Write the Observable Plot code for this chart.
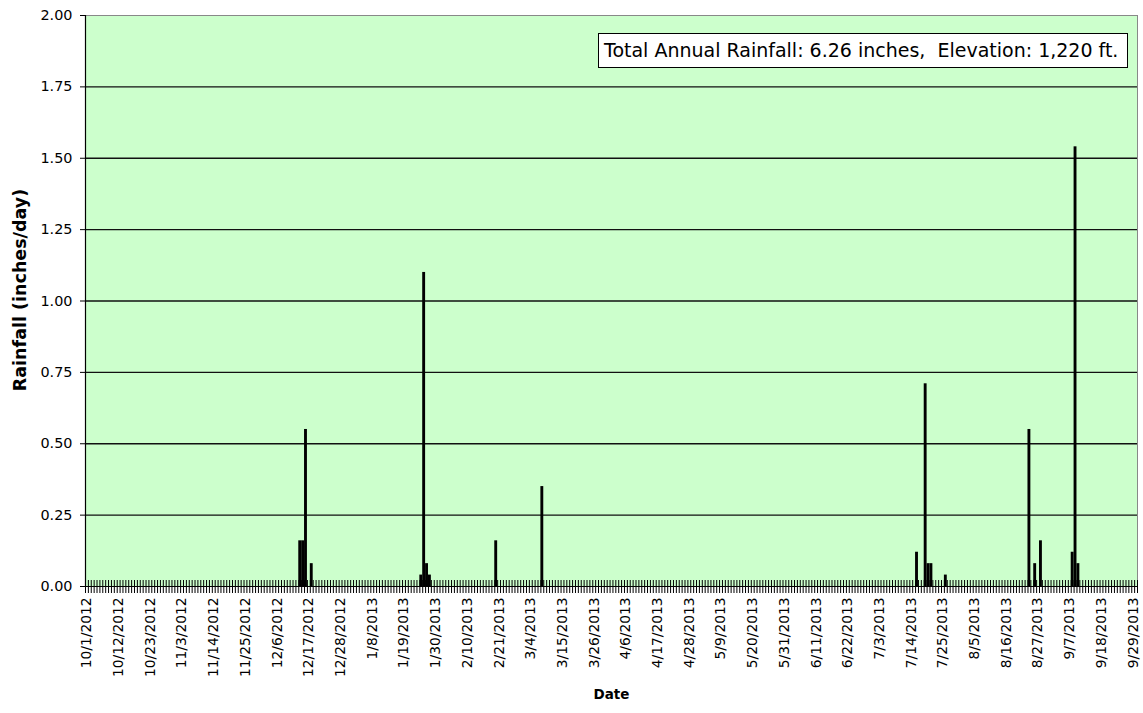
<!DOCTYPE html>
<html>
<head>
<meta charset="utf-8">
<script src="https://cdn.jsdelivr.net/npm/d3@7"></script>
<script src="https://cdn.jsdelivr.net/npm/@observablehq/plot@0.6"></script>
<style>
  html, body { margin: 0; padding: 0; background: #fff; }
  #wrap { position: relative; width: 1143px; height: 713px; }
  #note {
    position: absolute; left: 598px; top: 33px; width: 523px; height: 33px;
    background: #fff; border: 1px solid #000; box-sizing: content-box;
    font-family: "DejaVu Sans", sans-serif; font-size: 19px; line-height: 33px;
    padding-left: 5px; white-space: pre; color: #000;
  }
</style>
</head>
<body>
<div id="wrap"></div>
<script>
// ---- data ----
const startDate = "2012-10-01";
const endDate = "2013-10-01"; // exclusive
const rainDates = [
  "2012-12-14", "2012-12-15", "2012-12-16", "2012-12-18",
  "2013-01-25", "2013-01-26", "2013-01-27", "2013-01-28",
  "2013-02-20", "2013-03-08",
  "2013-07-16", "2013-07-19", "2013-07-20", "2013-07-21", "2013-07-26",
  "2013-08-24", "2013-08-26", "2013-08-28",
  "2013-09-08", "2013-09-09", "2013-09-10"
];
const rainInches = [
  0.16, 0.16, 0.55, 0.08,
  0.04, 1.10, 0.08, 0.04,
  0.16, 0.35,
  0.12, 0.71, 0.08, 0.08, 0.04,
  0.55, 0.08, 0.16,
  0.12, 1.54, 0.08
];
const yTicks = [0, 0.25, 0.5, 0.75, 1.0, 1.25, 1.5, 1.75, 2.0];
const labelEvery = 11;
const noteText = "Total Annual Rainfall: 6.26 inches,  Elevation: 1,220 ft.";
const yTitle = "Rainfall (inches/day)";
const xTitle = "Date";

// ---- derived ----
const parse = d3.timeParse("%Y-%m-%d");
const start = parse(startDate);
const days = d3.timeDay.range(start, parse(endDate));
const rain = rainDates.map((s, i) => ({day: d3.timeDay.count(start, parse(s)), value: rainInches[i]}));
const boundaries = d3.range(days.length + 1);
const labelDays = d3.range(0, days.length, labelEvery).map(d => d + 0.5);
const fmt = d => `${d.getMonth() + 1}/${d.getDate()}/${d.getFullYear()}`;

const chart = Plot.plot({
  width: 1143,
  height: 713,
  marginLeft: 85,
  marginRight: 6,
  marginTop: 15,
  marginBottom: 127,
  style: {fontFamily: "DejaVu Sans, sans-serif", fontSize: "13px", background: "#fff", color: "#000"},
  x: {domain: [0, days.length], axis: null},
  y: {domain: [0, 2], axis: null},
  marks: [
    Plot.frame({fill: "#CCFFCC", stroke: "#888"}),
    Plot.ruleY(yTicks.filter(v => v > 0 && v < 2), {stroke: "#111", strokeWidth: 1.4}),
    Plot.rectY(rain, {x1: "day", x2: d => d.day + 1, y: "value", fill: "#000", inset: 0}),
    Plot.ruleX([0], {stroke: "#000", strokeWidth: 1.2}),
    Plot.ruleY([0], {stroke: "#000", strokeWidth: 1.2}),
    Plot.axisX({ticks: boundaries, tickSize: 13, dy: -6, tickFormat: () => "", stroke: "#000", label: null}),
    Plot.axisX({ticks: labelDays, tickSize: 0, tickPadding: 11, tickRotate: -90, label: null,
      tickFormat: d => fmt(days[Math.floor(d)]), fontSize: 13.8, fill: "#000"}),
    Plot.axisY({ticks: yTicks, tickSize: 5, tickPadding: 8, tickFormat: d3.format(".2f"),
      fontSize: 14.4, fill: "#000", label: null}),
    Plot.text([yTitle], {frameAnchor: "left", textAnchor: "middle", rotate: -90, dx: -65, dy: -11,
      fontWeight: "bold", fontSize: 17.5, fill: "#000"}),
    Plot.text([xTitle], {frameAnchor: "bottom", dy: 112, fontWeight: "bold", fontSize: 13.5, fill: "#000"})
  ]
});
const wrap = document.getElementById("wrap");
wrap.appendChild(chart);
const note = document.createElement("div");
note.id = "note";
note.textContent = noteText;
wrap.appendChild(note);
</script>
</body>
</html>
